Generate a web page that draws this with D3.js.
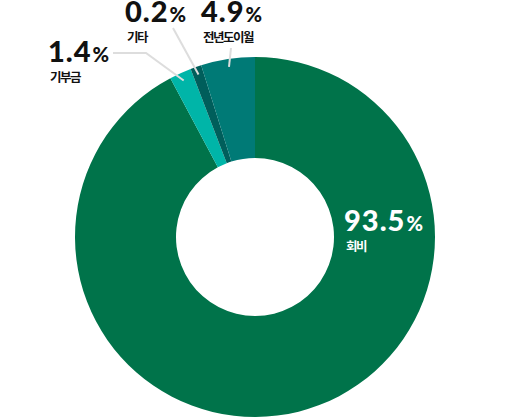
<!DOCTYPE html>
<html>
<head>
<meta charset="utf-8">
<script src="https://cdn.jsdelivr.net/npm/d3@7/dist/d3.min.js"></script>
<style>
  body { margin: 0; background: #fff; }
  text { font-family: "Noto Sans CJK KR", "Noto Sans", sans-serif; font-weight: 700; }
  text.num { font-family: Lato, "Noto Sans", sans-serif; font-weight: 900; }
</style>
</head>
<body>
<script>
// data (clockwise from 12 o'clock):
var categories = ["회비", "기부금", "기타", "전년도이월"];
var pcts = [93.5, 1.4, 0.2, 4.9];          // printed labels
var arcShare = [93.5, 2.0, 1.0, 4.9];      // slice size as drawn (small slices enlarged)
var colors = ["#00734a", "#00b5a8", "#005e5b", "#007a76"];

// SVG size:
var w_svg = 510;
var h_svg = 420;
var cx = 255, cy = 237;
var r_out = 180, r_in = 79;

var svg = d3.select("body")
            .append("svg")
            .attr("width", w_svg)
            .attr("height", h_svg);

var g = svg.append("g").attr("transform", "translate(" + cx + "," + cy + ")");

// pie layout:
var pie = d3.pie().sort(null).value(function(d) { return d; });
var arcs = pie(arcShare);
var arc = d3.arc().innerRadius(r_in).outerRadius(r_out);
var lineEnd = d3.arc().innerRadius(172).outerRadius(172);

g.selectAll("path.slice")
  .data(arcs)
  .enter()
  .append("path")
  .attr("class", "slice")
  .attr("d", arc)
  .attr("fill", function(d, i) { return colors[i]; });

// label layout (absolute positions):
var labelPos = [
  { x: 344, y: 231, fill: "#fff", lineFrom: null },
  { x: 48,  y: 62,  fill: "#111", lineFrom: [[113, 53], [146, 53]] },
  { x: 125, y: 21.5, fill: "#111", lineFrom: [[173, 28]] },
  { x: 201, y: 21.5, fill: "#111", lineFrom: [[231, 48]] }
];

// leader lines:
arcs.forEach(function(d, i) {
  var lp = labelPos[i];
  if (!lp.lineFrom) return;
  var c = lineEnd.centroid(d);
  var pts = lp.lineFrom.concat([[cx + c[0], cy + c[1]]]);
  svg.append("path")
     .attr("d", d3.line()(pts))
     .attr("fill", "none")
     .attr("stroke", "#dddddd")
     .attr("stroke-width", 2);
});

// labels:
categories.forEach(function(name, i) {
  var lp = labelPos[i];
  var t = svg.append("text")
             .attr("class", "num")
             .attr("x", lp.x)
             .attr("y", lp.y)
             .attr("fill", lp.fill)
             .style("font-size", "29px")
             .style("letter-spacing", "1px");
  t.append("tspan").text(pcts[i]);
  t.append("tspan")
   .attr("dx", 1)
   .style("font-size", "20px")
   .style("letter-spacing", "0px")
   .text("%");

  svg.append("text")
     .attr("x", lp.x + 2)
     .attr("y", lp.y + 20)
     .attr("fill", lp.fill)
     .style("font-size", "12.5px")
     .style("letter-spacing", "-1.5px")
     .text(name);
});
</script>
</body>
</html>
